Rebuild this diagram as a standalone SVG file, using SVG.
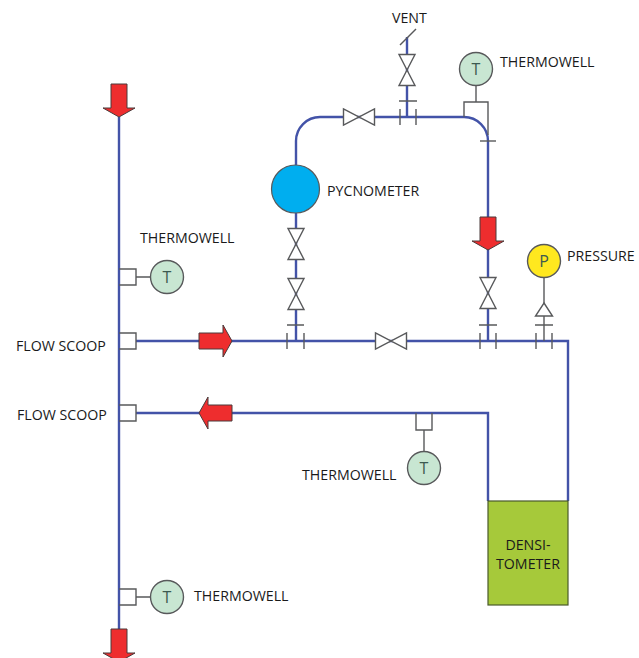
<svg xmlns="http://www.w3.org/2000/svg" width="639" height="658" viewBox="0 0 639 658">
<style>
.pipe{fill:none;stroke:#4353a8;stroke-width:2.4}
.thin{fill:none;stroke:#58595b;stroke-width:1.4}
.box{fill:#fff;stroke:#58595b;stroke-width:1.4}
.valve{fill:#fff;stroke:#58595b;stroke-width:1.4;stroke-linejoin:miter}
.arrow{fill:#ee2d2e;stroke:#4a3a3a;stroke-width:1}
.t{fill:#c8e6d2;stroke:#58595b;stroke-width:1.4}
text{font-family:"Open Sans","Noto Sans","Liberation Sans",sans-serif;font-size:14.2px;fill:#1a1a1a}
.sym{font-size:16px;fill:#3d5a50;text-anchor:middle}
</style>
<defs>
<path id="vv" class="valve" d="M-8 -15.500H8L-8 15.500H8Z"/>
<path id="hv" class="valve" d="M-15.500 -8V8L15.500 -8V8Z"/>
<path id="down" class="arrow" d="M-8 0H8V24H16L0 33L-16 24H-8Z"/>
</defs>
<g id="connectors">
<path class="pipe" d="M119 117V629"/>
<path class="pipe" d="M136 341H568V501"/>
<path class="pipe" d="M136 413H488V501"/>
<path class="pipe" d="M296 165V141A24 24 0 0 1 320 117H464A24 24 0 0 1 488 141V341"/>
<path class="pipe" d="M407 37V117"/>
<path class="pipe" d="M296 213V341"/>
<path class="thin" d="M400 45L416 29"/>
<path class="thin" d="M400 109V125M416 109V125M399 101H417"/>
<path class="thin" d="M480 141H496"/>
<path class="thin" d="M287 333V349M304 333V349M287 325H304"/>
<path class="thin" d="M480 333V349M496 333V349M479 325H497"/>
<path class="thin" d="M536 333V349M552 333V349M535 325H553"/>
<path class="thin" d="M544 277V303M544 316V341"/>
<path class="thin" d="M476 85V102M464 117V102H488V135"/>
<path class="thin" d="M424 430V452"/>
<path class="thin" d="M136 277H151M136 597H151"/>
</g>
<g id="valves">
<use href="#hv" x="359" y="117"/>
<use href="#vv" x="407" y="70"/>
<use href="#vv" x="296" y="244"/>
<use href="#vv" x="296" y="294"/>
<use href="#hv" x="391" y="341"/>
<use href="#vv" x="488" y="293"/>
</g>
<g id="arrows">
<use href="#down" x="119" y="84"/>
<use href="#down" x="119" y="629"/>
<use href="#down" x="488" y="217"/>
<path class="arrow" d="M199 333H223V325L232 341L223 357V349H199Z"/>
<path class="arrow" d="M232 405H208V397L199 413L208 429V421H232Z"/>
</g>
<g id="scoop-1"><path class="thin" d="M119 333H136V349H119"/></g>
<g id="scoop-2"><path class="thin" d="M119 405H136V421H119"/></g>
<g id="well-side-1"><path class="thin" d="M119 269H136V285H119"/></g>
<g id="well-side-2"><path class="thin" d="M119 589H136V605H119"/></g>
<g id="well-low"><path class="thin" d="M416 413V430H432V413"/></g>
<g id="thermowell-top"><circle class="t" cx="476" cy="69" r="16.500"/><text class="sym" x="476" y="75">T</text><text x="500" y="67">THERMOWELL</text></g>
<g id="thermowell-left"><circle class="t" cx="167" cy="277" r="16.500"/><text class="sym" x="167" y="283">T</text><text x="140" y="243">THERMOWELL</text></g>
<g id="thermowell-mid"><circle class="t" cx="424" cy="468" r="16.500"/><text class="sym" x="424" y="474">T</text><text x="302" y="480">THERMOWELL</text></g>
<g id="thermowell-bottom"><circle class="t" cx="167" cy="597" r="16.500"/><text class="sym" x="167" y="603">T</text><text x="194" y="601">THERMOWELL</text></g>
<g id="pressure"><circle cx="544" cy="261" r="16.500" fill="#ffe81f" stroke="#58595b" stroke-width="1.4"/><text class="sym" x="544" y="267">P</text><path class="valve" d="M544 303L552.500 316H535.500Z"/><text x="567" y="261">PRESSURE</text></g>
<g id="pycnometer"><circle cx="295.500" cy="189" r="24" fill="#00aeef" stroke="#58595b" stroke-width="1.200"/><text x="327" y="196">PYCNOMETER</text></g>
<g id="densitometer"><rect x="488" y="501" width="80" height="104" fill="#a6c93a" stroke="#4a5a2a" stroke-width="1.200"/><text x="528" y="550" text-anchor="middle">DENSI-</text><text x="528" y="569" text-anchor="middle">TOMETER</text></g>
<g id="labels">
<text x="392" y="23">VENT</text>
<text x="16" y="351">FLOW SCOOP</text>
<text x="17" y="420">FLOW SCOOP</text>
</g>
</svg>
